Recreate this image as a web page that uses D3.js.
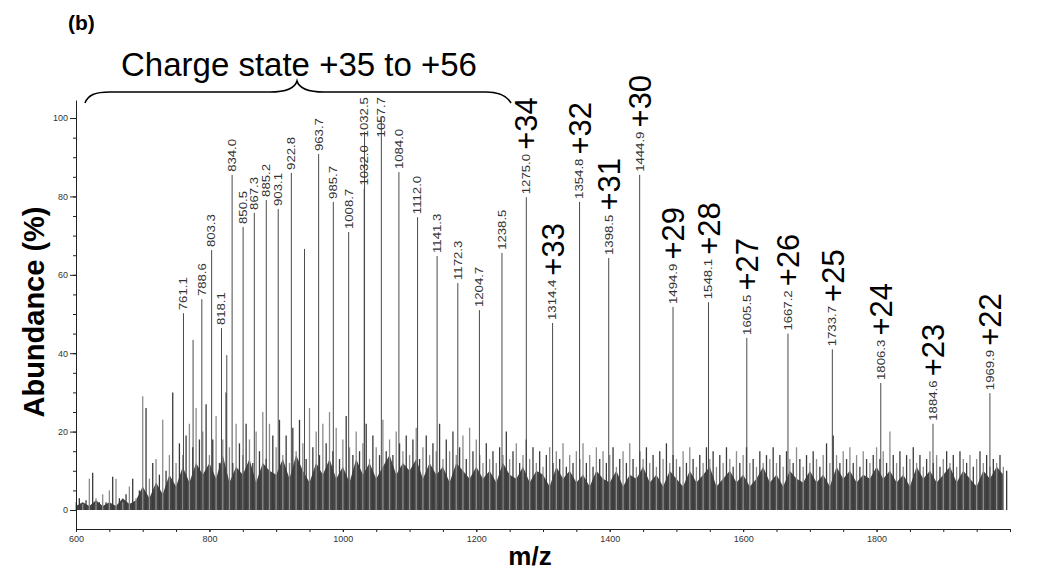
<!DOCTYPE html>
<html><head><meta charset="utf-8">
<script src="https://cdn.jsdelivr.net/npm/d3@7"></script>
<style>body{margin:0;background:#fff;} svg{display:block;font-family:Arial,"Liberation Sans",sans-serif;}</style>
</head><body><svg id="c" width="1050" height="583"></svg>
<script>
// ---- data ----
const peakMz = [761.1, 775.5, 788.6, 803.3, 818.1, 826.0, 834.0, 850.5, 867.3, 885.2, 903.1, 922.8, 942.5, 963.7, 985.7, 1008.7, 1032.0, 1032.5, 1057.7, 1084.0, 1112.0, 1141.3, 1172.3, 1204.7, 1238.5, 1275.0, 1314.4, 1354.8, 1398.5, 1444.9, 1494.9, 1548.1, 1605.5, 1667.2, 1733.7, 1806.3, 1884.6, 1969.9];
const peakAbund = [50.2, 43.4, 53.8, 66.3, 46.4, 39.5, 85.5, 72.2, 75.8, 79.1, 76.8, 86.0, 66.6, 90.8, 78.6, 70.9, 82.0, 96.5, 100, 86.2, 74.7, 64.8, 57.9, 51.0, 65.6, 79.8, 47.7, 78.6, 64.3, 85.5, 51.8, 53.0, 43.9, 45.0, 41.0, 32.4, 22.0, 29.8];
const peakLabels = ["761.1","","788.6","803.3","818.1","","834.0","850.5","867.3","885.2","903.1","922.8","","963.7","985.7","1008.7","1032.0","1032.5","1057.7","1084.0","1112.0","1141.3","1172.3","1204.7","1238.5","1275.0","1314.4","1354.8","1398.5","1444.9","1494.9","1548.1","1605.5","1667.2","1733.7","1806.3","1884.6","1969.9"];
const chargeMz = [1275.0, 1314.4, 1354.8, 1398.5, 1444.9, 1494.9, 1548.1, 1605.5, 1667.2, 1733.7, 1806.3, 1884.6, 1969.9];
const chargeLabels = ["+34","+33","+32","+31","+30","+29","+28","+27","+26","+25","+24","+23","+22"];

// baseline noise, spike heights every 5 m/z from 600
const noiseStart = 600, noiseStep = 5;
const noiseTop = [
 2,3,1.5,2.5,8,9.5,3,2,4,2,  5,8.5,8,3,2,4,6,8,3,5,
 29,26,8,12,13,9,23,10,14,30, 12,17,14,19,22,16,26,18,20,27,
 14,18,24,12,18,30,16,12,22,17, 14,22,18,12,20,15,25,13,22,19,
 16,23,14,19,12,21,15,23,17,13, 26,16,20,14,22,17,25,15,21,13,
 18,24,16,14,20,15,17,22,13,19, 16,14,23,15,18,14,20,17,15,19,
 14,18,21,13,16,19,14,17,15,22, 13,18,15,20,14,16,19,13,21,15,
 18,14,12,17,13,15,12,16,14,20, 13,15,17,12,14,18,13,16,12,15,
 11,14,16,12,15,13,17,11,14,12, 15,13,17,12,14,11,16,13,15,12,
 14,16,11,13,15,12,17,13,11,15, 13,16,12,14,11,15,13,17,12,14,
 13,11,15,12,16,13,11,14,12,16, 13,15,11,14,12,16,13,11,15,12,
 14,16,12,13,11,15,12,14,13,16, 12,14,11,15,13,12,16,13,11,14,
 12,15,13,11,14,17,12,19,14,12, 15,13,16,12,14,11,15,13,12,14,
 16,13,15,12,20,14,12,15,11,14, 13,16,12,14,11,13,15,12,14,11,
 13,15,12,14,11,15,13,12,14,11, 13,15,12,14,11,13,12,14,11,10
];
// dense noise body level every 10 m/z from 600
const bodyStep = 10;
const noiseBody = [
 1,2,1,2.5,1,2,1,3,1.5,2.5,
 6,3,7,4,9,6,11,7,12,9,
 12,8,14,7,11,9,13,7,12,10,
 9,13,8,14,10,7,12,9,13,8,
 11,7,13,9,12,8,11,14,9,12,
 10,13,8,12,9,11,7,12,10,8,
 11,8,10,7,12,9,8,11,7,10,
 9,6,11,8,10,7,9,6,10,8,
 7,10,6,9,8,11,7,9,6,10,
 8,6,10,7,9,11,6,8,10,7,
 9,6,8,11,7,9,6,10,8,7,
 10,7,9,6,11,8,10,7,9,8,
 11,8,10,7,9,6,11,8,10,7,
 9,11,7,10,8,6,10,8,11,9
];
const xMajor = [600, 800, 1000, 1200, 1400, 1600, 1800];
const yMajor = [0, 20, 40, 60, 80, 100];

// ---- chart ----
const svg = d3.select("#c");
const x = d3.scaleLinear().domain([600, 2000]).range([76, 1010]);
const y = d3.scaleLinear().domain([-4.85, 104.6]).range([529, 100]);

// noise body
const bodyPts = noiseBody.map((v, i) => [noiseStart + i * bodyStep, v]);
svg.append("path").datum(bodyPts)
  .attr("d", d3.area().x(d => x(d[0])).y0(y(0)).y1(d => y(d[1])))
  .attr("fill", "#444");
// noise spikes
svg.append("g").selectAll("line").data(noiseTop).join("line")
  .attr("x1", (d, i) => x(noiseStart + i * noiseStep)).attr("x2", (d, i) => x(noiseStart + i * noiseStep))
  .attr("y1", y(0)).attr("y2", d => y(d))
  .attr("stroke", (d, i) => i % 2 ? "#3a3a3a" : "#8c8c8c").attr("stroke-width", 1.3);

// peaks
const peaks = peakMz.map((m, i) => ({m, v: peakAbund[i], lab: peakLabels[i]}));
svg.append("g").selectAll("line").data(peaks).join("line")
  .attr("x1", d => x(d.m)).attr("x2", d => x(d.m))
  .attr("y1", y(0)).attr("y2", d => y(d.v))
  .attr("stroke", "#4a4a4a").attr("stroke-width", 1);

// peak labels
const labTop = {};
const lg = svg.append("g");
peaks.filter(d => d.lab).forEach(d => {
  const t = lg.append("text").text(d.lab)
    .attr("font-size", 11).attr("fill", "#333").attr("dy", "0.35em");
  const len = t.node().getComputedTextLength() * 1.2;
  const bottom = Math.max(y(d.v) - 3, 97 + len);
  t.attr("transform", `translate(${x(d.m)},${bottom}) rotate(-90) scale(1.2,1)`);
  labTop[d.lab] = bottom - len;
});

// charge state labels
chargeMz.forEach((m, i) => {
  const lab = peakLabels[peakMz.indexOf(m)];
  const bottom = labTop[lab] - 4;
  svg.append("text").text(chargeLabels[i])
    .attr("font-size", 31).attr("fill", "#000").attr("dy", "0.36em")
    .attr("transform", `translate(${x(m)},${bottom}) rotate(-90)`);
});

// axes
svg.append("g").attr("transform", "translate(76,0)")
  .call(d3.axisLeft(y).tickValues(yMajor).tickSize(6).tickPadding(2).tickSizeOuter(0).tickFormat(d3.format("d")));
svg.append("g").attr("transform", "translate(76,0)")
  .call(d3.axisLeft(y).tickValues(d3.range(0, 101, 5)).tickSize(3).tickFormat("").tickSizeOuter(0))
  .select(".domain").remove();
svg.append("g").attr("transform", "translate(0,529)")
  .call(d3.axisBottom(x).tickValues(xMajor).tickSize(3).tickPadding(4).tickSizeOuter(0).tickFormat(d3.format("d")));
svg.append("g").attr("transform", "translate(0,529)")
  .call(d3.axisBottom(x).tickValues(d3.range(600, 2001, 50)).tickSize(3).tickFormat("").tickSizeOuter(0))
  .select(".domain").remove();
svg.selectAll(".tick text").attr("font-size", 9).attr("fill", "#333").attr("font-family", "Arial, Liberation Sans, sans-serif");
svg.selectAll(".domain, .tick line").attr("stroke", "#222");

// titles
svg.append("text").text("(b)").attr("x", 68).attr("y", 30)
  .attr("font-size", 21).attr("font-weight", "bold");
svg.append("text").text("Abundance (%)")
  .attr("transform", "translate(44,312) rotate(-90)").attr("text-anchor", "middle")
  .attr("font-size", 29).attr("font-weight", "bold");
svg.append("text").text("m/z").attr("x", 530).attr("y", 565).attr("text-anchor", "middle")
  .attr("font-size", 26).attr("font-weight", "bold");
svg.append("text").text("Charge state +35 to +56").attr("x", 299).attr("y", 76)
  .attr("text-anchor", "middle").attr("font-size", 33);

// brace
const bp = d3.path();
bp.moveTo(85, 103);
bp.bezierCurveTo(88, 95, 95, 92, 110, 92);
bp.lineTo(270, 92);
bp.bezierCurveTo(288, 92, 295, 88, 297, 81);
bp.bezierCurveTo(299, 88, 306, 92, 324, 92);
bp.lineTo(486, 92);
bp.bezierCurveTo(500, 92, 507, 96, 511, 103);
svg.append("path").attr("d", bp.toString()).attr("fill", "none").attr("stroke", "#000").attr("stroke-width", 1.6);
</script></body></html>
